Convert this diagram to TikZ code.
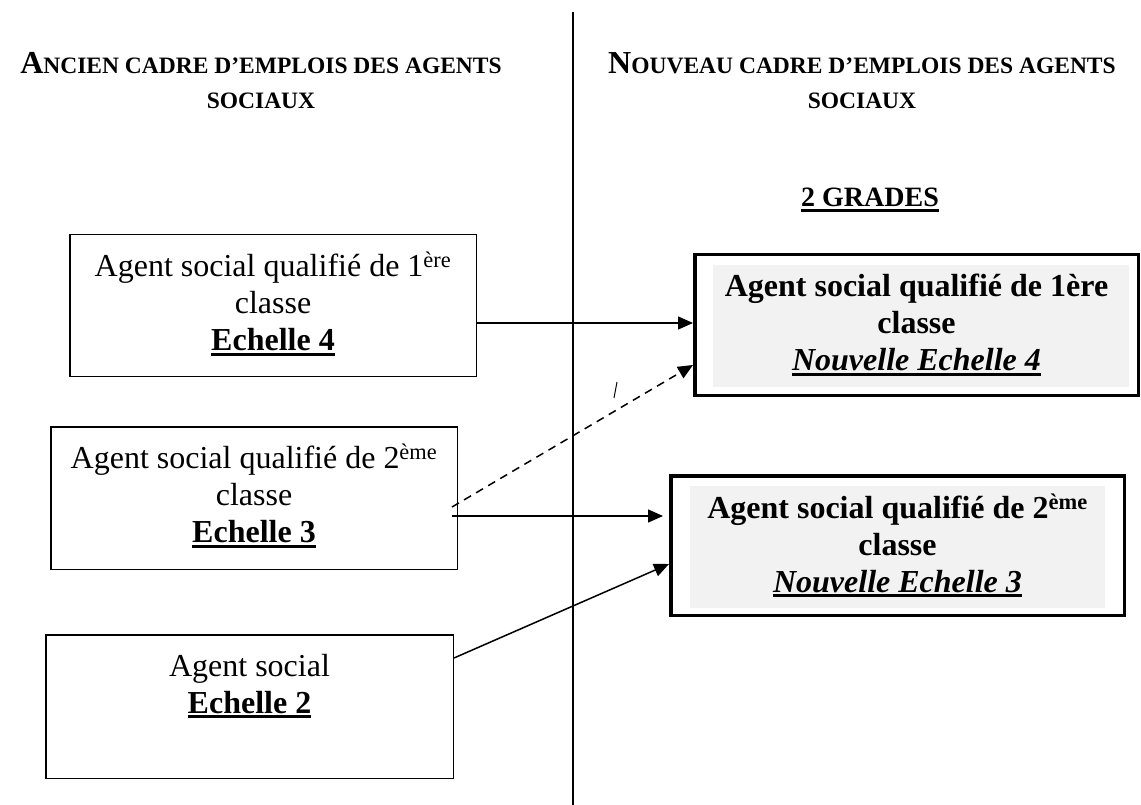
\documentclass[tikz,border=0pt]{standalone}
\usepackage{fontspec}
\setmainfont{Liberation Serif}
\usetikzlibrary{arrows.meta,shapes.geometric}
\definecolor{gris}{HTML}{F2F2F2}
\newcommand{\souligne}[1]{\leavevmode\vtop{\hbox{#1}\kern2pt\hrule height 3pt}}
\newcommand{\pc}[1]{{\fontsize{23.5}{35}\selectfont #1}}

\begin{document}
\begin{tikzpicture}[x=1pt,y=1pt]
\tikzstyle{block} = [rectangle, draw=black, line width=1.5pt, anchor=north west,
text width=380pt, align=flush center, inner sep=0pt, text depth=83pt, font=\fontsize{32}{37}\selectfont]
\tikzstyle{block_new} = [rectangle, draw=black, line width=3.5pt, anchor=north west,
text width=420pt, align=flush center, inner sep=0pt, font=\fontsize{32}{37}\selectfont\bfseries]
\tikzstyle{titre} = [align=flush center, inner sep=0pt, anchor=north, font=\fontsize{32}{35}\selectfont\bfseries]
\tikzstyle{line} = [draw, line width=1.5pt, -{Triangle[length=15pt,width=13pt]}];
\useasboundingbox (0,0) rectangle (1141,-805);

% titres
\node [titre] (ancien) at (261,-52) {A\pc{NCIEN CADRE D’EMPLOIS DES AGENTS}\\ \pc{SOCIAUX}};
\node [titre] (nouveau) at (862,-52) {N\pc{OUVEAU CADRE D’EMPLOIS DES AGENTS}\\ \pc{SOCIAUX}};
\node [anchor=base, inner sep=0pt, font=\fontsize{28}{34}\selectfont\bfseries] (grades) at (870,-207) {\souligne{2 GRADES}};

% separation
\coordinate (haut) at (573,-12);
\coordinate (bas) at (573,-805);
\draw [line width=2pt] (haut) -- (bas);

% ancien cadre
\node [block, minimum width=406.5pt, minimum height=141.5pt] (ancienA) at (69,-234)
{Agent social qualifié de 1\textsuperscript{ère}\\ classe\\ \souligne{\textbf{Echelle 4}}};
\node [block, minimum width=406.5pt, minimum height=142.5pt] (ancienB) at (50,-426)
{Agent social qualifié de 2\textsuperscript{ème}\\ classe\\ \souligne{\textbf{Echelle 3}}};
\node [block, minimum width=407.5pt, minimum height=143.5pt] (ancienC) at (45,-634)
{Agent social\\ \souligne{\textbf{Echelle 2}}};

% nouveau cadre
\node [block_new, minimum width=443.5pt, minimum height=140.5pt,
path picture={\fill[gris] ([shift={(18pt,-10pt)}]path picture bounding box.north west)
rectangle ([shift={(-9pt,8pt)}]path picture bounding box.south east);}] (nouveauD) at (693,-253)
{Agent social qualifié de 1ère\\ classe\\ \souligne{\textit{Nouvelle Echelle 4}}};
\node [block_new, minimum width=453.5pt, minimum height=139.5pt,
path picture={\fill[gris] ([shift={(19pt,-10pt)}]path picture bounding box.north west)
rectangle ([shift={(-19pt,7pt)}]path picture bounding box.south east);}] (nouveauE) at (669,-474)
{Agent social qualifié de 2\textsuperscript{ème}\\ classe\\ \souligne{\textit{Nouvelle Echelle 3}}};

\draw [line width=1pt] (617,-382) -- (614,-398);

\tikzstyle{every path}=[line]
\path ([yshift=-17.5pt]ancienA.east) -- ([yshift=-17.5pt]ancienA.east -| nouveauD.west);
\path ([xshift=-6pt,yshift=-18pt]ancienB.east) -- ([xshift=-6pt,yshift=-18pt]ancienB.east -| nouveauE.west);
\path [dash pattern=on 8pt off 6pt] ([xshift=-6pt,yshift=-9pt]ancienB.east) -- ([yshift=32pt]nouveauD.south west);
\path ([yshift=48.5pt]ancienC.east) -- ([yshift=-18.5pt]nouveauE.west);

\end{tikzpicture}
\end{document}
